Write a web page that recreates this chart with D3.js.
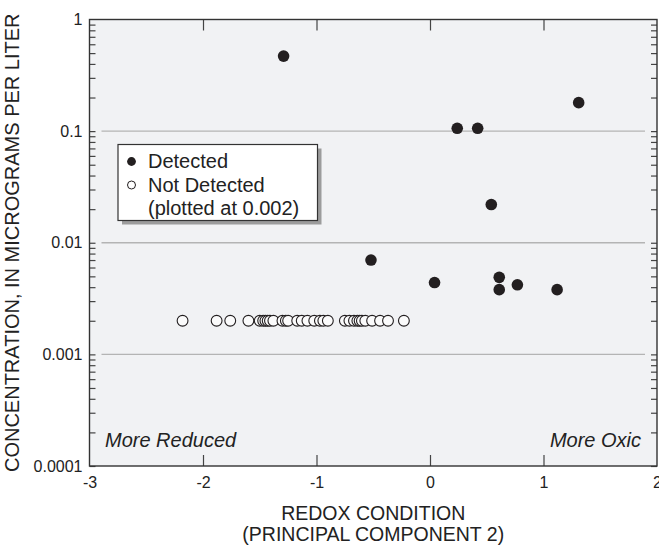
<!DOCTYPE html>
<html>
<head>
<meta charset="utf-8">
<script src="https://cdn.jsdelivr.net/npm/d3@7"></script>
<style>
  body { margin: 0; background: #fff; }
  svg { display: block; font-family: "Liberation Sans", Arial, Helvetica, sans-serif; }
</style>
</head>
<body>
<div id="chart"></div>
<script>
// redox (principal component 2) vs concentration, detected samples
const detectedX = [-1.29, 0.24, 0.42, 1.31, 0.54, -0.52, 0.04, 0.61, 0.61, 0.77, 1.12];
const detectedY = [0.47, 0.106, 0.106, 0.18, 0.022, 0.0070, 0.0044, 0.0049, 0.0038, 0.0042, 0.0038];

// not detected samples, plotted at 0.002
const notDetectedX = [-2.18, -1.88, -1.76, -1.60, -1.50, -1.47, -1.45, -1.43, -1.41, -1.38,
                      -1.30, -1.27, -1.25, -1.17, -1.13, -1.08, -1.02, -0.97, -0.94, -0.90,
                      -0.75, -0.71, -0.67, -0.64, -0.62, -0.60, -0.57, -0.51, -0.44, -0.37, -0.23];
const notDetectedLevel = 0.002;

const xTickValues = [-3, -2, -1, 0, 1, 2];
const xTickLabels = ["-3", "-2", "-1", "0", "1", "2"];
const xInnerTicks = [-2, -1, 0, 1];
const yTickValues = [1, 0.1, 0.01, 0.001, 0.0001];
const yTickLabels = ["1", "0.1", "0.01", "0.001", "0.0001"];
const yGridValues = [0.1, 0.01, 0.001];

const legendLabels = ["Detected", "Not Detected", "(plotted at 0.002)"];

const width = 659;
const height = 548;
const plotLeft = 89.5, plotRight = 657, plotTop = 19.5, plotBottom = 466;

const x = d3.scaleLinear().domain([-3, 2]).range([plotLeft, plotRight]);
const y = d3.scaleLog().domain([0.0001, 1]).range([plotBottom, plotTop]);

// minor ticks 1..9 in every decade
const yMinor = [];
[0.0001, 0.001, 0.01, 0.1].forEach(d => {
  for (let k = 1; k < 10; k++) yMinor.push(d * k);
});

const svg = d3.select("#chart")
  .append("svg")
  .attr("width", width)
  .attr("height", height);

// plot background
svg.append("rect")
  .attr("x", plotLeft).attr("y", plotTop)
  .attr("width", plotRight - plotLeft).attr("height", plotBottom - plotTop)
  .attr("fill", "#f1f2f4");

// grid lines
svg.append("g")
  .selectAll("line")
  .data(yGridValues)
  .join("line")
  .attr("x1", plotLeft + 12).attr("x2", plotRight - 12)
  .attr("y1", d => y(d)).attr("y2", d => y(d))
  .attr("stroke", "#b4b4b4")
  .attr("stroke-width", 1.3);

// inward ticks
const tickStyle = g => {
  g.select(".domain").remove();
  g.selectAll("line").attr("stroke", "#444").attr("stroke-width", 1.2);
};

svg.append("g")
  .attr("transform", `translate(${plotLeft},0)`)
  .call(d3.axisLeft(y).tickValues(yMinor).tickSize(-6).tickFormat(""))
  .call(tickStyle);

svg.append("g")
  .attr("transform", `translate(${plotRight},0)`)
  .call(d3.axisRight(y).tickValues(yMinor).tickSize(-6).tickFormat(""))
  .call(tickStyle);

svg.append("g")
  .attr("transform", `translate(0,${plotTop})`)
  .call(d3.axisTop(x).tickValues(xInnerTicks).tickSize(-11).tickFormat(""))
  .call(tickStyle);

svg.append("g")
  .attr("transform", `translate(0,${plotBottom})`)
  .call(d3.axisBottom(x).tickValues(xInnerTicks).tickSize(-11).tickFormat(""))
  .call(tickStyle);

// tick labels
const labelStyle = g => {
  g.select(".domain").remove();
  g.selectAll("line").remove();
  g.selectAll("text").attr("font-size", 16).attr("fill", "#222")
    .attr("font-family", "'Liberation Sans', Arial, sans-serif");
};

svg.append("g")
  .attr("transform", `translate(${plotLeft},0)`)
  .call(d3.axisLeft(y).tickValues(yTickValues).tickSize(0).tickPadding(7)
    .tickFormat((d, i) => yTickLabels[i]))
  .call(labelStyle);

svg.append("g")
  .attr("transform", `translate(0,${plotBottom})`)
  .call(d3.axisBottom(x).tickValues(xTickValues).tickSize(0).tickPadding(11)
    .tickFormat((d, i) => xTickLabels[i]))
  .call(labelStyle);

// frame
svg.append("rect")
  .attr("x", plotLeft).attr("y", plotTop)
  .attr("width", plotRight - plotLeft).attr("height", plotBottom - plotTop)
  .attr("fill", "none")
  .attr("stroke", "#333")
  .attr("stroke-width", 1.4);

// not detected points
svg.append("g")
  .selectAll("circle")
  .data(notDetectedX)
  .join("circle")
  .attr("cx", d => x(d))
  .attr("cy", y(notDetectedLevel))
  .attr("r", 5.4)
  .attr("fill", "#fbfbfb")
  .attr("stroke", "#231f20")
  .attr("stroke-width", 1.1);

// detected points
svg.append("g")
  .selectAll("circle")
  .data(detectedX)
  .join("circle")
  .attr("cx", d => x(d))
  .attr("cy", (d, i) => y(detectedY[i]))
  .attr("r", 5.8)
  .attr("fill", "#231f20");

// corner notes
svg.append("text")
  .attr("x", 105).attr("y", 446.5)
  .attr("font-size", 20).attr("font-style", "italic").attr("fill", "#222")
  .text("More Reduced");

svg.append("text")
  .attr("x", 641).attr("y", 446.5)
  .attr("text-anchor", "end")
  .attr("font-size", 20).attr("font-style", "italic").attr("fill", "#222")
  .text("More Oxic");

// legend
const legend = svg.append("g");
legend.append("rect")
  .attr("x", 122).attr("y", 148.5)
  .attr("width", 199.5).attr("height", 76)
  .attr("fill", "#9c9c9c");
legend.append("rect")
  .attr("x", 118).attr("y", 144.5)
  .attr("width", 199.5).attr("height", 76)
  .attr("fill", "#fff")
  .attr("stroke", "#333")
  .attr("stroke-width", 1.2);

legend.append("circle")
  .attr("cx", 131.5).attr("cy", 161.5).attr("r", 4.4)
  .attr("fill", "#231f20");
legend.append("circle")
  .attr("cx", 131.5).attr("cy", 185).attr("r", 4)
  .attr("fill", "#fff").attr("stroke", "#231f20").attr("stroke-width", 1);

legend.selectAll("text")
  .data(legendLabels)
  .join("text")
  .attr("x", 148)
  .attr("y", (d, i) => 168.3 + i * 23.2)
  .attr("font-size", 20)
  .attr("fill", "#222")
  .text(d => d);

// axis titles
svg.append("text")
  .attr("transform", `translate(19,${(plotTop + plotBottom) / 2}) rotate(-90)`)
  .attr("text-anchor", "middle")
  .attr("font-size", 20).attr("fill", "#222")
  .text("CONCENTRATION, IN MICROGRAMS PER LITER");

const xTitle = svg.append("text")
  .attr("text-anchor", "middle")
  .attr("font-size", 19.5).attr("fill", "#222");
xTitle.append("tspan").attr("x", (plotLeft + plotRight) / 2).attr("y", 520).text("REDOX CONDITION");
xTitle.append("tspan").attr("x", (plotLeft + plotRight) / 2).attr("y", 541).text("(PRINCIPAL COMPONENT 2)");
</script>
</body>
</html>
